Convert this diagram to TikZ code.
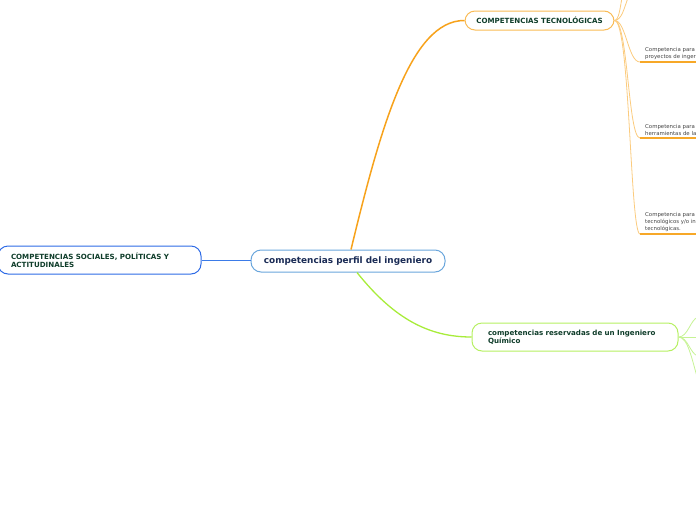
\documentclass[tikz,border=0pt]{standalone}
\usepackage{fontspec}
\setmainfont{DejaVu Sans}
\usetikzlibrary{calc}
\definecolor{cblue}{HTML}{6AA6DC}
\definecolor{lblue}{HTML}{2E6BE6}
\definecolor{lline}{HTML}{3B7BE8}
\definecolor{omain}{HTML}{F7A21B}
\definecolor{oborder}{HTML}{F9BB55}
\definecolor{othin}{HTML}{FBCB7E}
\definecolor{ounder}{HTML}{F7A828}
\definecolor{gmain}{HTML}{A8EC3A}
\definecolor{gborder}{HTML}{B6F062}
\definecolor{gthin}{HTML}{C6F394}
\definecolor{titlegreen}{HTML}{0F3D2A}
\definecolor{navy}{HTML}{1A2B55}
\definecolor{leafgray}{HTML}{444444}
\begin{document}
\begin{tikzpicture}[x=1pt,y=-1pt,
  box/.style={draw, rounded corners=10pt, fill=white, line width=1pt, inner ysep=0pt},
  ttl/.style={font=\fontsize{7.1}{8}\selectfont\bfseries, text=titlegreen},
  leaf/.style={font=\fontsize{5.4}{6.6}\selectfont, text=leafgray, anchor=south west, inner sep=0pt, align=left},
  othinl/.style={othin, line width=0.8pt},
  gthinl/.style={gthin, line width=0.8pt},
  under/.style={ounder, line width=1.3pt},
]
\useasboundingbox (0,0) rectangle (696,520);
\clip (0,0) rectangle (696,520);

% main nodes
\node[box, draw=cblue, minimum width=194pt, minimum height=22pt, font=\fontsize{8.9}{10}\selectfont\bfseries, text=navy] (c) at (348,261) {competencias perfil del ingeniero};
\node[box, draw=lblue, ttl, minimum width=203pt, minimum height=28pt, text width=177pt, inner xsep=13pt, align=left] (l) at (99.5,260) {COMPETENCIAS SOCIALES, POLÍTICAS Y\\ACTITUDINALES};
\node[box, draw=oborder, ttl, minimum width=149pt, minimum height=19pt] (t) at (539.5,20.5) {COMPETENCIAS TECNOLÓGICAS};
\node[box, draw=gborder, ttl, minimum width=206pt, minimum height=28pt, text width=174pt, inner xsep=16pt, align=left] (g) at (575,337) {competencias reservadas de un Ingeniero\\Químico};

% main connectors
\draw[lline, line width=1pt] (l.east) -- (l.east -| c.west);
\draw[omain, line width=1.5pt] ([xshift=3pt]c.north) .. controls (380,130) and (410,20) .. (t.west);
\draw[gmain, line width=1.3pt] ([xshift=9pt]c.south) .. controls (395,320) and (430,337) .. (g.west);

% orange leaves
\coordinate (u1) at (622,-2);
\coordinate (u2) at (628,-2);
\coordinate (a1) at (640,62);
\coordinate (a2) at (640,138);
\coordinate (a3) at (640,234);
\coordinate (e1) at (698,62);
\coordinate (e2) at (698,138);
\coordinate (e3) at (698,234);
\draw[othinl] (t.east) .. controls (619,20) and (620,8) .. (u1);
\draw[othinl] (t.east) .. controls (622,20) and (624,8) .. (u2);
\draw[othinl] (t.east) .. controls (626,20) and (628,62) .. (a1);
\draw[othinl] (t.east) .. controls (628,20) and (628,138) .. (a2);
\draw[othinl] (t.east) .. controls (630,20) and (630,234) .. (a3);
\draw[under] (a1) -- (e1);
\draw[under] (a2) -- (e2);
\draw[under] (a3) -- (e3);
\node[leaf] (p1) at (645,59.5) {Competencia para\\proyectos de inger};
\node[leaf] (p2) at (645,135.5) {Competencia para\\herramientas de la};
\node[leaf] (p3) at (645,231.5) {Competencia para\\tecnológicos y/o in\\tecnológicas.};

% green leaves
\coordinate (h1) at (698,317);
\coordinate (h2) at (698,337);
\coordinate (h3) at (698,356);
\coordinate (h4) at (698,380);
\draw[gthinl] (g.east) .. controls (688,337) and (690,320) .. (h1);
\draw[gthinl] (g.east) -- (h2);
\draw[gthinl] (g.east) .. controls (688,337) and (690,354) .. (h3);
\draw[gthinl] (g.east) .. controls (688,337) and (692,360) .. (h4);
\end{tikzpicture}
\end{document}
